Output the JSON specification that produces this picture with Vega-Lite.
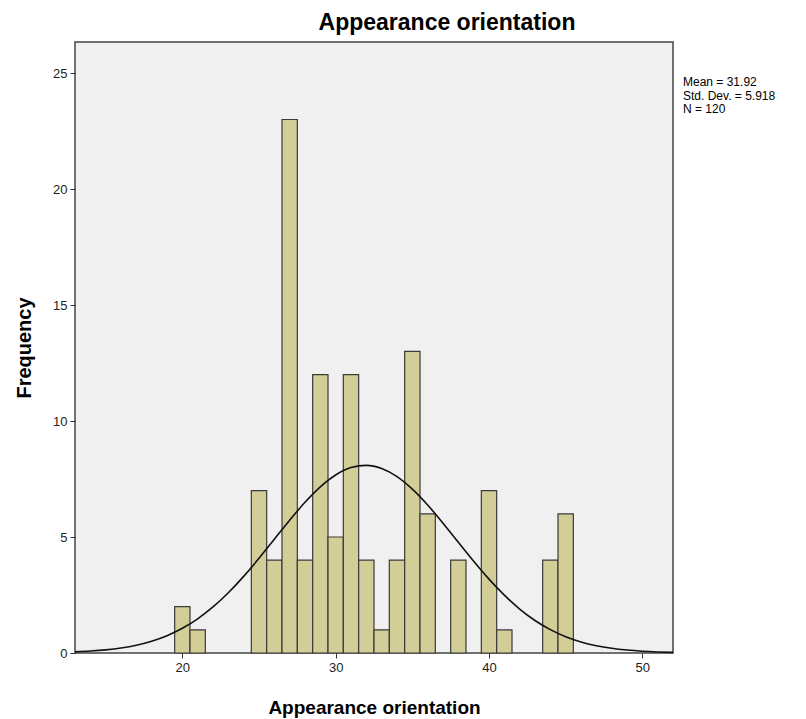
{
  "$schema": "https://vega.github.io/schema/vega-lite/v6.json",
  "width": 598,
  "height": 611,
  "autosize": {"type": "none"},
  "padding": {"left": 75, "top": 42, "right": 133, "bottom": 66},
  "background": "white",
  "title": {
    "text": "Appearance orientation",
    "font": "Liberation Sans",
    "fontSize": 23,
    "fontWeight": "bold",
    "color": "#000",
    "anchor": "middle",
    "dx": 73,
    "offset": 7
  },
  "config": {
    "view": {"fill": "#F0F0F0", "stroke": "#444444", "strokeWidth": 1.5},
    "axis": {
      "labelFont": "Liberation Sans",
      "labelFontSize": 13,
      "labelColor": "#222",
      "titleFont": "Liberation Sans",
      "titleFontWeight": "bold",
      "titleColor": "#000",
      "tickColor": "#333",
      "tickSize": 5,
      "domain": false,
      "grid": false
    }
  },
  "datasets": {
    "bins": [
      {"value": 20, "bin_start": 19.5, "bin_end": 20.5, "count": 2},
      {"value": 21, "bin_start": 20.5, "bin_end": 21.5, "count": 1},
      {"value": 25, "bin_start": 24.5, "bin_end": 25.5, "count": 7},
      {"value": 26, "bin_start": 25.5, "bin_end": 26.5, "count": 4},
      {"value": 27, "bin_start": 26.5, "bin_end": 27.5, "count": 23},
      {"value": 28, "bin_start": 27.5, "bin_end": 28.5, "count": 4},
      {"value": 29, "bin_start": 28.5, "bin_end": 29.5, "count": 12},
      {"value": 30, "bin_start": 29.5, "bin_end": 30.5, "count": 5},
      {"value": 31, "bin_start": 30.5, "bin_end": 31.5, "count": 12},
      {"value": 32, "bin_start": 31.5, "bin_end": 32.5, "count": 4},
      {"value": 33, "bin_start": 32.5, "bin_end": 33.5, "count": 1},
      {"value": 34, "bin_start": 33.5, "bin_end": 34.5, "count": 4},
      {"value": 35, "bin_start": 34.5, "bin_end": 35.5, "count": 13},
      {"value": 36, "bin_start": 35.5, "bin_end": 36.5, "count": 6},
      {"value": 38, "bin_start": 37.5, "bin_end": 38.5, "count": 4},
      {"value": 40, "bin_start": 39.5, "bin_end": 40.5, "count": 7},
      {"value": 41, "bin_start": 40.5, "bin_end": 41.5, "count": 1},
      {"value": 44, "bin_start": 43.5, "bin_end": 44.5, "count": 4},
      {"value": 45, "bin_start": 44.5, "bin_end": 45.5, "count": 6}
    ],
    "curve": [
      {"x": 13, "y": 0.049}, {"x": 14, "y": 0.083}, {"x": 15, "y": 0.136},
      {"x": 16, "y": 0.217}, {"x": 17, "y": 0.337}, {"x": 18, "y": 0.509},
      {"x": 19, "y": 0.746}, {"x": 20, "y": 1.064}, {"x": 21, "y": 1.474},
      {"x": 22, "y": 1.985}, {"x": 23, "y": 2.598}, {"x": 24, "y": 3.304},
      {"x": 25, "y": 4.084}, {"x": 26, "y": 4.905}, {"x": 27, "y": 5.726},
      {"x": 28, "y": 6.496}, {"x": 29, "y": 7.163}, {"x": 30, "y": 7.675},
      {"x": 31, "y": 7.993}, {"x": 32, "y": 8.089}, {"x": 33, "y": 7.956},
      {"x": 34, "y": 7.605}, {"x": 35, "y": 7.065}, {"x": 36, "y": 6.379},
      {"x": 37, "y": 5.596}, {"x": 38, "y": 4.772}, {"x": 39, "y": 3.955},
      {"x": 40, "y": 3.185}, {"x": 41, "y": 2.493}, {"x": 42, "y": 1.896},
      {"x": 43, "y": 1.402}, {"x": 44, "y": 1.007}, {"x": 45, "y": 0.703},
      {"x": 46, "y": 0.477}, {"x": 47, "y": 0.315}, {"x": 48, "y": 0.202},
      {"x": 49, "y": 0.126}, {"x": 50, "y": 0.076}, {"x": 51, "y": 0.045},
      {"x": 52, "y": 0.026}
    ],
    "stats": [
      {"label": "Mean = 31.92", "x": 52, "y": 24.6},
      {"label": "Std. Dev. = 5.918", "x": 52, "y": 24.03},
      {"label": "N = 120", "x": 52, "y": 23.46}
    ]
  },
  "layer": [
    {
      "data": {"name": "bins"},
      "mark": {"type": "rect", "fill": "#D3CE97", "stroke": "#3A3A3A", "strokeWidth": 1.2},
      "encoding": {
        "x": {
          "field": "bin_start",
          "type": "quantitative",
          "scale": {"domain": [13, 52], "nice": false, "zero": false},
          "axis": {"values": [20, 30, 40, 50], "title": "Appearance orientation", "titleFontSize": 19, "titlePadding": 24, "labelPadding": 3}
        },
        "x2": {"field": "bin_end"},
        "y": {
          "field": "count",
          "type": "quantitative",
          "scale": {"domain": [0, 26.34], "nice": false},
          "axis": {"values": [0, 5, 10, 15, 20, 25], "title": "Frequency", "titleFontSize": 20, "titlePadding": 18, "labelPadding": 3}
        },
        "y2": {"datum": 0}
      }
    },
    {
      "data": {"name": "curve"},
      "mark": {"type": "line", "color": "#111", "strokeWidth": 1.6, "interpolate": "monotone"},
      "encoding": {
        "x": {"field": "x", "type": "quantitative"},
        "y": {"field": "y", "type": "quantitative"}
      }
    },
    {
      "data": {"name": "stats"},
      "mark": {"type": "text", "align": "left", "baseline": "middle", "dx": 10, "font": "Liberation Sans", "fontSize": 12, "color": "#000", "clip": false},
      "encoding": {
        "x": {"field": "x", "type": "quantitative"},
        "y": {"field": "y", "type": "quantitative"},
        "text": {"field": "label"}
      }
    }
  ]
}
